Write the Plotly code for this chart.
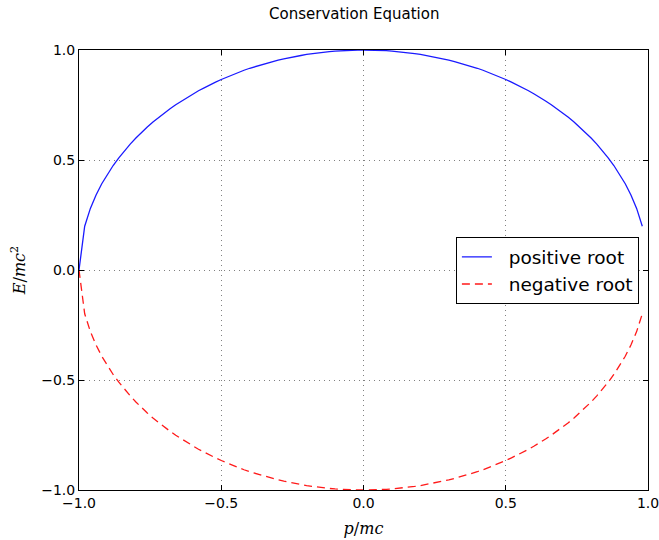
import plotly.graph_objects as go

# Momentum samples (p/mc) and the two energy roots (E/mc^2)
p_mc = [
    -1.00, -0.98, -0.96, -0.94, -0.92, -0.90, -0.88, -0.86, -0.84, -0.82,
    -0.80, -0.78, -0.76, -0.74, -0.72, -0.70, -0.68, -0.66, -0.64, -0.62,
    -0.60, -0.58, -0.56, -0.54, -0.52, -0.50, -0.48, -0.46, -0.44, -0.42,
    -0.40, -0.38, -0.36, -0.34, -0.32, -0.30, -0.28, -0.26, -0.24, -0.22,
    -0.20, -0.18, -0.16, -0.14, -0.12, -0.10, -0.08, -0.06, -0.04, -0.02,
    0.00, 0.02, 0.04, 0.06, 0.08, 0.10, 0.12, 0.14, 0.16, 0.18,
    0.20, 0.22, 0.24, 0.26, 0.28, 0.30, 0.32, 0.34, 0.36, 0.38,
    0.40, 0.42, 0.44, 0.46, 0.48, 0.50, 0.52, 0.54, 0.56, 0.58,
    0.60, 0.62, 0.64, 0.66, 0.68, 0.70, 0.72, 0.74, 0.76, 0.78,
    0.80, 0.82, 0.84, 0.86, 0.88, 0.90, 0.92, 0.94, 0.96, 0.98,
]

positive_root = [
    0.000, 0.199, 0.280, 0.341, 0.392, 0.436, 0.475, 0.510, 0.543, 0.572,
    0.600, 0.626, 0.650, 0.673, 0.694, 0.714, 0.733, 0.751, 0.768, 0.785,
    0.800, 0.815, 0.828, 0.842, 0.854, 0.866, 0.877, 0.888, 0.898, 0.908,
    0.917, 0.925, 0.933, 0.940, 0.947, 0.954, 0.960, 0.966, 0.971, 0.975,
    0.980, 0.984, 0.987, 0.990, 0.993, 0.995, 0.997, 0.998, 0.999, 1.000,
    1.000, 1.000, 0.999, 0.998, 0.997, 0.995, 0.993, 0.990, 0.987, 0.984,
    0.980, 0.975, 0.971, 0.966, 0.960, 0.954, 0.947, 0.940, 0.933, 0.925,
    0.917, 0.908, 0.898, 0.888, 0.877, 0.866, 0.854, 0.842, 0.828, 0.815,
    0.800, 0.785, 0.768, 0.751, 0.733, 0.714, 0.694, 0.673, 0.650, 0.626,
    0.600, 0.572, 0.543, 0.510, 0.475, 0.436, 0.392, 0.341, 0.280, 0.199,
]

negative_root = [
    -0.000, -0.199, -0.280, -0.341, -0.392, -0.436, -0.475, -0.510, -0.543, -0.572,
    -0.600, -0.626, -0.650, -0.673, -0.694, -0.714, -0.733, -0.751, -0.768, -0.785,
    -0.800, -0.815, -0.828, -0.842, -0.854, -0.866, -0.877, -0.888, -0.898, -0.908,
    -0.917, -0.925, -0.933, -0.940, -0.947, -0.954, -0.960, -0.966, -0.971, -0.975,
    -0.980, -0.984, -0.987, -0.990, -0.993, -0.995, -0.997, -0.998, -0.999, -1.000,
    -1.000, -1.000, -0.999, -0.998, -0.997, -0.995, -0.993, -0.990, -0.987, -0.984,
    -0.980, -0.975, -0.971, -0.966, -0.960, -0.954, -0.947, -0.940, -0.933, -0.925,
    -0.917, -0.908, -0.898, -0.888, -0.877, -0.866, -0.854, -0.842, -0.828, -0.815,
    -0.800, -0.785, -0.768, -0.751, -0.733, -0.714, -0.694, -0.673, -0.650, -0.626,
    -0.600, -0.572, -0.543, -0.510, -0.475, -0.436, -0.392, -0.341, -0.280, -0.199,
]

tick_vals = [-1.0, -0.5, 0.0, 0.5, 1.0]
tick_text = ["\u22121.0", "\u22120.5", "0.0", "0.5", "1.0"]

# Non-breaking spaces open a gap between each legend line sample and its label
LEGEND_PAD = "\u00a0\u00a0"

fig = go.Figure()
fig.add_trace(go.Scatter(
    x=p_mc, y=positive_root, mode="lines", name=LEGEND_PAD + "positive root",
    line=dict(color="#1a1aff", width=1.3),
))
fig.add_trace(go.Scatter(
    x=p_mc, y=negative_root, mode="lines", name=LEGEND_PAD + "negative root",
    line=dict(color="#ff1a1a", width=1.3, dash="8px,5px"),
))

axis_common = dict(
    tickvals=tick_vals, ticktext=tick_text,
    showline=True, linecolor="black", linewidth=1, mirror="allticks",
    ticks="inside", ticklen=5, tickcolor="black", tickwidth=1,
    showgrid=True, gridcolor="#808080", gridwidth=1, griddash="1px,4px",
    zeroline=False, automargin=False, ticklabeloverflow="allow",
    tickfont=dict(family="DejaVu Sans", size=14, color="black"),
)

fig.update_layout(
    width=659, height=540,
    margin=dict(l=79, r=11, t=50, b=50),
    paper_bgcolor="white", plot_bgcolor="white",
    title=dict(
        text="Conservation Equation", x=0.5375, xanchor="center",
        y=0.975, yanchor="middle",
        font=dict(family="DejaVu Sans", size=15, color="black"),
    ),
    xaxis=dict(
        range=[-1.0, 1.0],
        title=dict(text="<i>p</i>/<i>mc</i>", standoff=13,
                   font=dict(family="DejaVu Serif", size=16, color="black")),
        **axis_common,
    ),
    yaxis=dict(
        range=[-1.0, 1.0],
        title=dict(text="<i>E</i>/<i>mc</i><sup>2</sup>", standoff=11,
                   font=dict(family="DejaVu Serif", size=16, color="black")),
        **axis_common,
    ),
    legend=dict(
        x=0.984, y=0.574, xanchor="right", yanchor="top",
        bgcolor="white", bordercolor="black", borderwidth=1,
        font=dict(family="DejaVu Sans", size=18.5, color="black"),
        itemwidth=30,
    ),
)

fig.write_html("out.html")
